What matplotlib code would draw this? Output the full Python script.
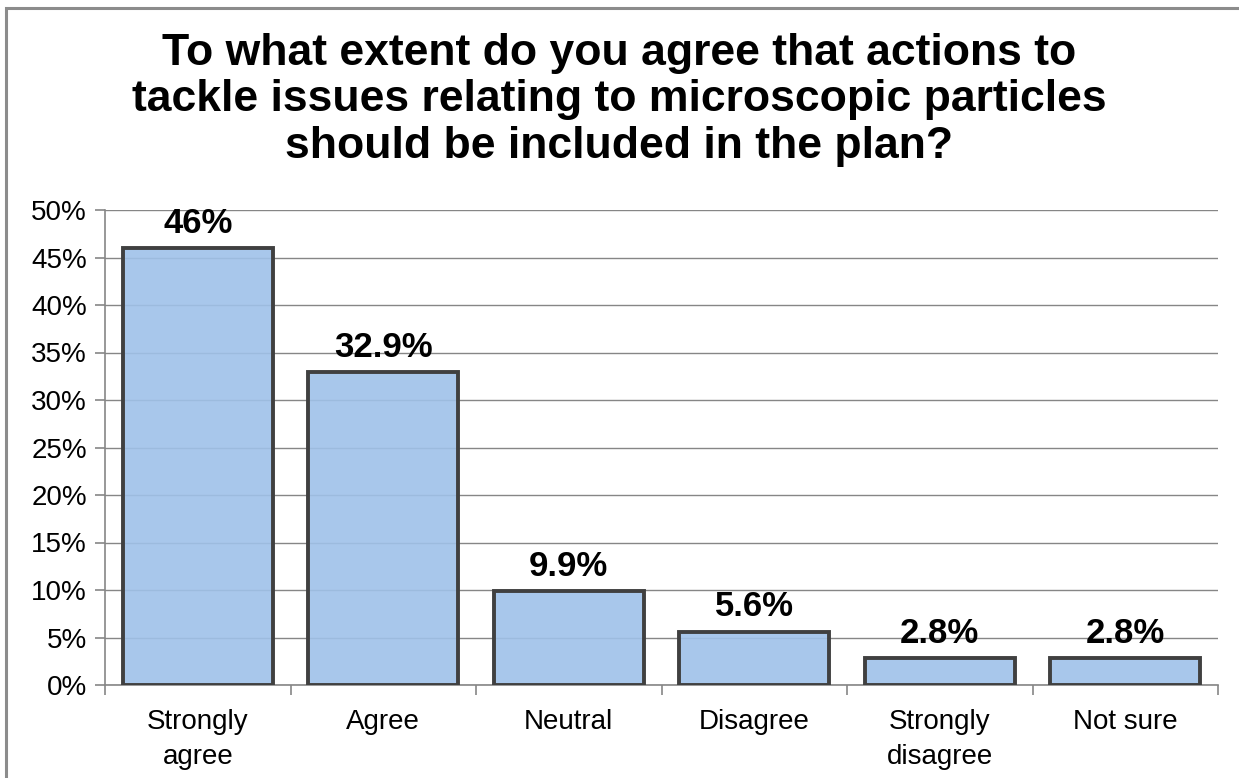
from matplotlib import pyplot as plt
from matplotlib.patches import Rectangle
from matplotlib.ticker import FixedLocator, FuncFormatter

plt.rcParams["font.family"] = ["Liberation Sans", "DejaVu Sans"]

TITLE = ("To what extent do you agree that actions to\n"
         "tackle issues relating to microscopic particles\n"
         "should be included in the plan?")
categories = ["Strongly\nagree", "Agree", "Neutral", "Disagree",
              "Strongly\ndisagree", "Not sure"]
values = [46, 32.9, 9.9, 5.6, 2.8, 2.8]
value_labels = ["46%", "32.9%", "9.9%", "5.6%", "2.8%", "2.8%"]
y_ticks = list(range(0, 55, 5))

GRID = "#868686"

fig = plt.figure(figsize=(12.39, 7.78), dpi=100)
ax = fig.add_axes([105 / 1239, 93 / 778, 1113 / 1239, 475 / 778])

# outer chart frame (only left and top edges fall inside the image)
fig.patches.append(Rectangle(
    (6 / 1239, -0.05), 1.2, 1.05 - 7.5 / 778, transform=fig.transFigure,
    fill=False, edgecolor="#8c8c8c", linewidth=2.2
))

positions = range(len(categories))
ax.bar(positions, values, width=0.81, color=(0.625, 0.755, 0.915, 0.9),
       edgecolor="#404040", linewidth=2.8, zorder=3)

for x, v, lab in zip(positions, values, value_labels):
    ax.annotate(lab, (x, v), xytext=(0, 6), textcoords="offset points",
                ha="center", va="bottom", fontsize=25, fontweight="bold",
                zorder=5)

ax.set_xlim(-0.5, len(categories) - 0.5)
ax.set_ylim(0, 50)
ax.yaxis.set_major_locator(FixedLocator(y_ticks))
ax.yaxis.set_major_formatter(FuncFormatter(lambda v, _: f"{v:.0f}%"))
ax.grid(axis="y", color=GRID, linewidth=1.0, zorder=1)

ax.set_xticks(list(positions))
ax.set_xticklabels(categories, fontsize=20, linespacing=1.45)
ax.xaxis.set_minor_locator(FixedLocator([i - 0.5 for i in range(len(categories) + 1)]))
ax.tick_params(axis="x", which="major", length=0, pad=17)
ax.tick_params(axis="x", which="minor", length=7, color=GRID, width=1.2)
ax.tick_params(axis="y", length=7, color=GRID, width=1.2, labelsize=20, pad=6)

for side in ("top", "right"):
    ax.spines[side].set_visible(False)
for side in ("left", "bottom"):
    ax.spines[side].set_color(GRID)
    ax.spines[side].set_linewidth(1.2)

fig.text(0.5, 1 - 100 / 778, TITLE, ha="center", va="center",
         fontsize=32, fontweight="bold", linespacing=1.17)

fig.savefig("out.png", dpi=100, facecolor="white")
